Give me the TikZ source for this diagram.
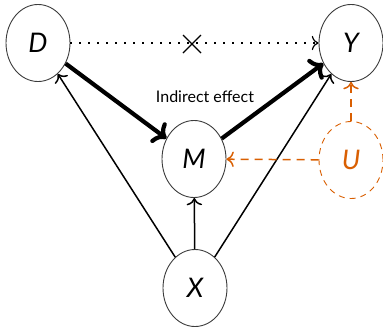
\documentclass[tikz,border=0pt]{standalone}
\usepackage{fontspec}
\setmainfont{Lato}
\usetikzlibrary{shapes.geometric,arrows.meta}
\definecolor{confcol}{RGB}{217,95,2}
\definecolor{rimcol}{RGB}{60,60,60}
\tikzset{
  var/.style={ellipse, draw=rimcol, line width=0.9pt, minimum width=64pt,
    minimum height=77pt, inner sep=0pt,
    font=\fontsize{27}{30}\selectfont\itshape},
  latent/.style={var, draw=confcol, text=confcol, dash pattern=on 6pt off 5pt},
  path/.style={-{To[scale=1.5]}, line width=1.5pt},
  mediated/.style={-{To[scale=1.1]}, line width=4.2pt},
  direct/.style={-{To[scale=1.6]}, line width=1.2pt, dash pattern=on 1.2pt off 7.8pt},
  confound/.style={-{To[scale=1.5]}, draw=confcol, line width=1.5pt, dash pattern=on 8pt off 6pt},
}
\begin{document}
\begin{tikzpicture}[x=1pt, y=-1pt]
  \useasboundingbox (0,0) rectangle (383,327);
  \node[var] (D) at (38,43) {D};
  \node[var] (Y) at (351,43) {Y};
  \node[var] (M) at (194,159) {M};
  \node[latent] (U) at (351,160) {U};
  \node[var] (X) at (195,288) {X};

  % blocked direct path with a cross on it
  \draw[direct] (D) -- (Y);
  \coordinate (cut) at (192,44);
  \draw[line width=1.2pt] ([shift={(-9,-9)}]cut) -- ([shift={(9,9)}]cut)
                          ([shift={(-9,9)}]cut) -- ([shift={(9,-9)}]cut);

  % mediated path
  \draw[mediated] (D) -- (M);
  \draw[mediated] (M) -- (Y);
  \node[font=\fontsize{16}{18}\selectfont] (lab) at (205,97) {Indirect effect};

  % covariate paths
  \draw[path] (X) -- (D);
  \draw[path] (X) -- (M);
  \draw[path] (X) -- (Y);

  % unobserved confounder
  \draw[confound] (U) -- (M);
  \draw[confound] (U) -- (Y);
\end{tikzpicture}
\end{document}
